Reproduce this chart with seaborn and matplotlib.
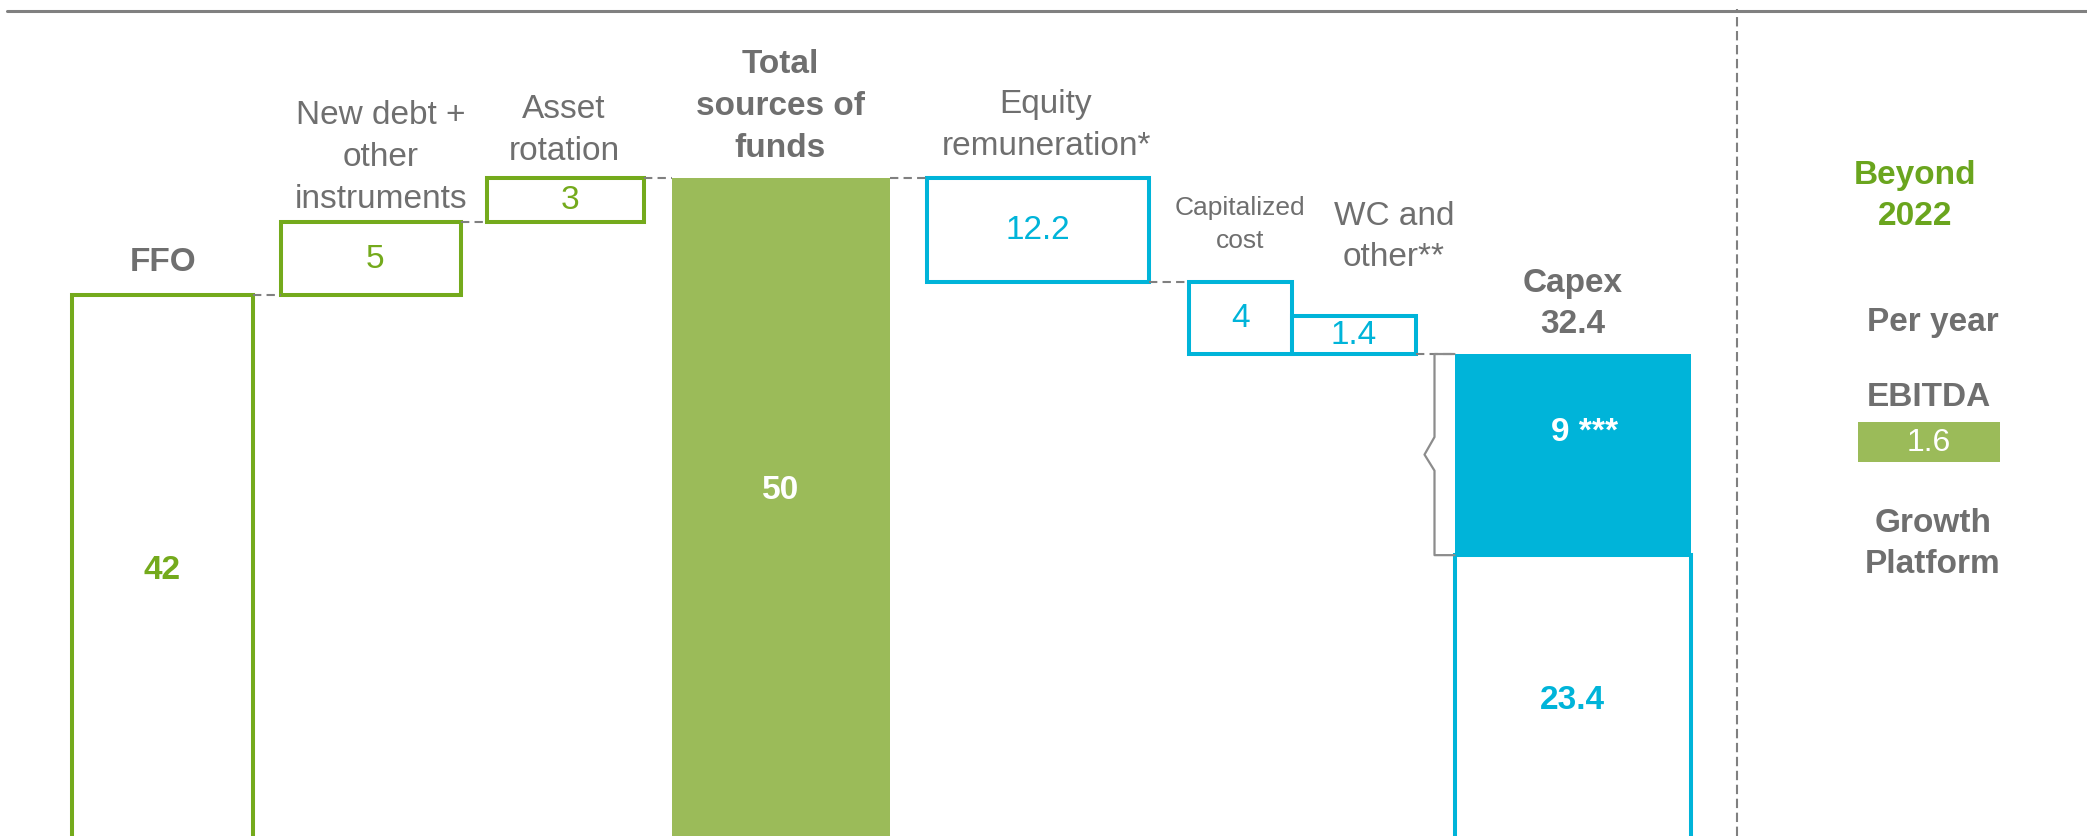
"""
Sources and uses of funds waterfall (bn EUR)
"""

import matplotlib
matplotlib.use("Agg")
import matplotlib.pyplot as plt
from matplotlib.patches import Rectangle
import seaborn as sns

# ---- data ----
src_labels = ["FFO", "New debt +\nother\ninstruments", "Asset\nrotation", "Total\nsources of\nfunds"]
src_values = [42, 5, 3, 50]

use_labels = ["Equity\nremuneration*", "Capitalized\ncost", "WC and\nother**"]
use_values = [12.2, 4, 1.4]
capex_parts = [9, 23.4]
capex_total = 32.4

# the uses side of the slide is not drawn to scale; extents as shown in the picture
use_shown = [7.1, 4.95, 2.6]
capex_shown = [13.75, 24.2]

beyond_title = "Beyond\n2022"
ebitda_value = 1.6

# ---- style ----
GREEN_LINE = "#74AA1C"
GREEN_FILL = "#9BBB59"
BLUE = "#00B4D9"
GRAY_TXT = "#6F6F6F"
GRAY_LINE = "#808080"

sns.set_theme(style="white")
plt.rcParams["font.family"] = ["Liberation Sans", "DejaVu Sans"]

# layout (x in pixel-like units across the slide)
src_x = [162.5, 371, 565.5, 781]
src_w = [181, 180, 157, 218]
use_x = [1038, 1240.5, 1354]
use_w = [222, 103, 124]
capex_x, capex_w = 1572.5, 236
W, H = 2087, 837
PX = 0.72  # points per pixel at 100 dpi
LS = 1.45

fig = plt.figure(figsize=(W / 100, H / 100), dpi=100)
ax = fig.add_axes([0, 0, 1, 1])
ax.set_xlim(0, W)
ax.set_ylim(5.0, 62.22)
ax.axis("off")
xt = ax.get_xaxis_transform()


def fy(px):
    return 1 - px / H


LW = 2.9

# sources
src_bottom = [0, src_values[0], src_values[0] + src_values[1], 0]
for i, v in enumerate(src_values):
    if i == 3:
        ax.bar(src_x[i], v, width=src_w[i], bottom=src_bottom[i], color=GREEN_FILL, lw=0)
    else:
        ax.bar(src_x[i], v, width=src_w[i], bottom=src_bottom[i], facecolor="white",
               edgecolor=GREEN_LINE, lw=LW)

# uses
eq_top = src_values[3]
eq_bot = eq_top - use_shown[0]
cap_bot = eq_bot - use_shown[1]
use_bottom = [eq_bot, cap_bot, cap_bot]
use_top = [eq_top, eq_bot, cap_bot + use_shown[2]]
for i in range(3):
    ax.bar(use_x[i], use_shown[i], width=use_w[i], bottom=use_bottom[i], facecolor="white",
           edgecolor=BLUE, lw=LW)

capex_top = cap_bot
capex_split = capex_top - capex_shown[0]
ax.bar(capex_x, capex_shown[1], width=capex_w, bottom=0, facecolor="white", edgecolor=BLUE, lw=LW)
ax.bar(capex_x, capex_shown[0], width=capex_w, bottom=capex_split, color=BLUE, lw=0)

# dashed connectors
dash = dict(color=GRAY_LINE, lw=1.5, ls=(0, (4, 2.5)))
conns = [
    (src_x[0] + src_w[0] / 2, src_x[1] - src_w[1] / 2, src_values[0]),
    (src_x[1] + src_w[1] / 2, src_x[2] - src_w[2] / 2, src_bottom[2]),
    (src_x[2] + src_w[2] / 2, src_x[3] - src_w[3] / 2, src_values[3]),
    (src_x[3] + src_w[3] / 2, use_x[0] - use_w[0] / 2, eq_top),
    (use_x[0] + use_w[0] / 2, use_x[1] - use_w[1] / 2, eq_bot),
    (use_x[2] + use_w[2] / 2, capex_x - capex_w / 2, capex_top),
]
for x0, x1, yv in conns:
    ax.plot([x0, x1], [yv, yv], **dash)

# bracket beside the 9 part of capex
bl = capex_x - capex_w / 2
mid = (capex_top + capex_split) / 2
ax.plot([bl, bl - 20, bl - 20, bl - 30, bl - 20, bl - 20, bl],
        [capex_top, capex_top, mid + 1.2, mid, mid - 1.1, capex_split, capex_split],
        color="#8C8C8C", lw=1.6)

# category labels above the bars (offset in px from bar top to text centre)
lab = dict(ha="center", va="center", color=GRAY_TXT, textcoords="offset points", linespacing=LS)
src_off = [33, 65, 48, 72]
src_lx = [163, 381, 564, 780]
src_tops = [b + v if i < 3 else v for i, (b, v) in enumerate(zip(src_bottom, src_values))]
for i in range(4):
    bold = i in (0, 3)
    ax.annotate(src_labels[i], xy=(src_lx[i], src_tops[i]), xytext=(0, src_off[i] * PX),
                fontsize=24, fontweight="bold" if bold else "normal", **lab)

use_off = [53, 58, 80]
use_lx = [1046, 1240, 1394]
use_fs = [24, 19, 24]
for i in range(3):
    ax.annotate(use_labels[i], xy=(use_lx[i], use_top[i]), xytext=(0, use_off[i] * PX),
                fontsize=use_fs[i], **lab)
ax.annotate(f"Capex\n{capex_total}", xy=(capex_x, capex_top), xytext=(0, 51 * PX),
            fontsize=24, fontweight="bold", **lab)

# values inside the bars
ax.text(src_x[0], 23.2, f"{src_values[0]}", ha="center", va="center", fontsize=24,
        fontweight="bold", color=GREEN_LINE)
for i in (1, 2):
    ax.text(src_x[i] + 4, src_bottom[i] + src_values[i] / 2, f"{src_values[i]}", ha="center",
            va="center", fontsize=24, color=GREEN_LINE)
ax.text(src_x[3], 28.7, f"{src_values[3]}", ha="center", va="center", fontsize=24,
        fontweight="bold", color="white")
for i in range(3):
    ax.text(use_x[i], use_bottom[i] + use_shown[i] / 2, f"{use_values[i]:g}", ha="center",
            va="center", fontsize=24, color=BLUE)
ax.annotate(f"{capex_parts[0]} ***", xy=(capex_x + 12, capex_top), xytext=(0, -77 * PX),
            textcoords="offset points", ha="center", va="center", fontsize=24,
            fontweight="bold", color="white")
ax.text(capex_x, 14.3, f"{capex_parts[1]}", ha="center", va="center", fontsize=24,
        fontweight="bold", color=BLUE)

# frame lines
ax.plot([7, W], [fy(12), fy(12)], transform=xt, color=GRAY_LINE, lw=2.2, clip_on=False)
ax.plot([1737, 1737], [0, fy(10)], transform=xt, color=GRAY_LINE, lw=1.5,
        ls=(0, (4.5, 2.2)), clip_on=False)

# right panel
ax.text(1915, fy(196), beyond_title, transform=xt, ha="center", va="center", fontsize=24,
        fontweight="bold", color="#6AA51E", linespacing=LS)
ax.text(1933, fy(322), "Per year", transform=xt, ha="center", va="center", fontsize=24,
        fontweight="bold", color=GRAY_TXT)
ax.text(1929, fy(398), "EBITDA", transform=xt, ha="center", va="center", fontsize=24,
        fontweight="bold", color=GRAY_TXT)
ax.add_patch(Rectangle((1858, fy(463)), 142, 40 / H, transform=xt, color=GREEN_FILL, lw=0))
ax.text(1929, fy(443), f"{ebitda_value}", transform=xt, ha="center", va="center", fontsize=23,
        color="white")
ax.text(1933, fy(544), "Growth\nPlatform", transform=xt, ha="center", va="center", fontsize=24,
        fontweight="bold", color=GRAY_TXT, linespacing=LS)

fig.savefig("out.png", dpi=100)
